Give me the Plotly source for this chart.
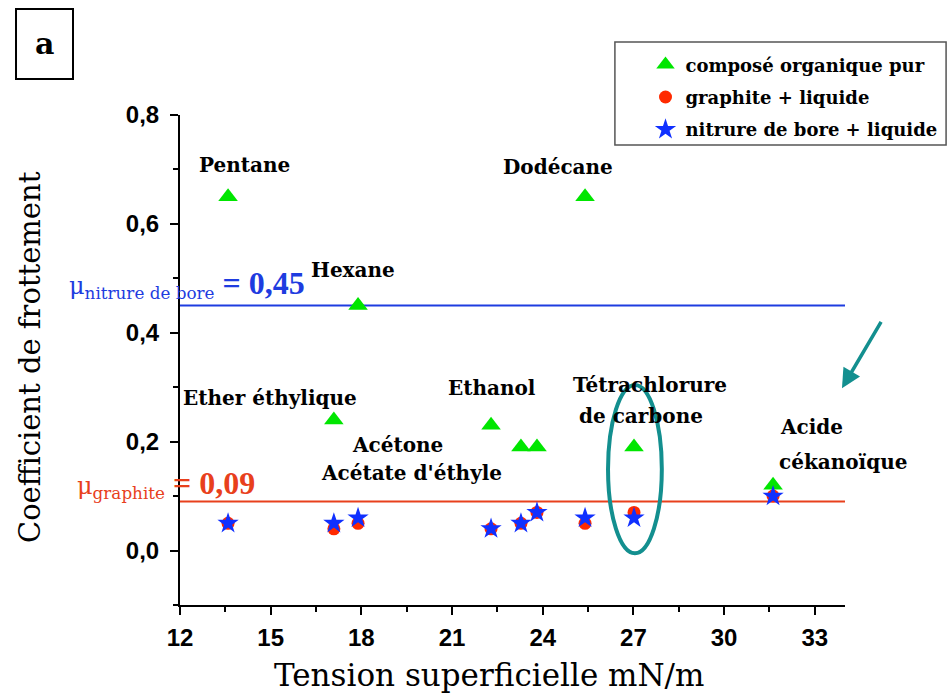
import plotly.graph_objects as go

# Surface tension of each liquid (mN/m) and measured friction coefficients
liquides = ["Pentane", "Ether éthylique", "Hexane", "Ethanol", "Acétone",
            "Acétate d'éthyle", "Dodécane", "Tétrachlorure de carbone", "Acide cékanoïque"]
tension = [13.59, 17.09, 17.89, 22.29, 23.28, 23.81, 25.40, 27.02, 31.62]
mu_organique = [0.65, 0.24, 0.45, 0.23, 0.19, 0.19, 0.65, 0.19, 0.12]
mu_graphite_liq = [0.05, 0.04, 0.05, 0.04, 0.05, 0.07, 0.05, 0.07, 0.10]
mu_bn_liq = [0.05, 0.05, 0.06, 0.04, 0.05, 0.07, 0.06, 0.06, 0.10]

# Dry friction references
mu_nitrure_bore = 0.45
mu_graphite = 0.09

x_range = [12, 34]
y_range = [-0.1, 0.8]

GREEN = "#00e600"
RED = "#ff2a00"
BLUE = "#1030ff"
TEAL = "#138f8f"
LINE_BLUE = "#1e3ce0"
LINE_RED = "#e8401c"
SERIF = "DejaVu Serif"
SERIF_NARROW = "Liberation Serif"

fig = go.Figure()

fig.add_trace(go.Scatter(
    x=tension, y=mu_organique, mode="markers", name="composé organique pur",
    legendgroup="a", text=liquides,
    marker=dict(symbol="triangle-up", size=17, color=GREEN, line=dict(width=0)),
))
fig.add_trace(go.Scatter(
    x=tension, y=mu_graphite_liq, mode="markers", name="graphite + liquide",
    legendgroup="b", text=liquides,
    marker=dict(symbol="circle", size=13, color=RED, line=dict(width=0)),
))
fig.add_trace(go.Scatter(
    x=tension, y=mu_bn_liq, mode="markers", name="nitrure de bore + liquide",
    legendgroup="c", text=liquides,
    marker=dict(symbol="star", size=16, color=BLUE, line=dict(width=0)),
))

# Horizontal reference lines for the dry powders
fig.add_shape(type="line", xref="x", yref="y", x0=x_range[0], x1=x_range[1],
              y0=mu_nitrure_bore, y1=mu_nitrure_bore,
              line=dict(color=LINE_BLUE, width=2), layer="below")
fig.add_shape(type="line", xref="x", yref="y", x0=x_range[0], x1=x_range[1],
              y0=mu_graphite, y1=mu_graphite,
              line=dict(color=LINE_RED, width=2), layer="below")

# Ellipse around the carbon tetrachloride results
fig.add_shape(type="circle", xref="x", yref="y", x0=26.16, x1=27.94, y0=-0.005, y1=0.304,
              line=dict(color=TEAL, width=4))

# Panel letter box
fig.add_shape(type="rect", xref="paper", yref="paper",
              x0=-0.2466, x1=-0.1609, y0=1.0735, y1=1.2163,
              line=dict(color="black", width=2))
fig.add_annotation(xref="paper", yref="paper", x=-0.2045, y=1.145,
                   xanchor="center", yanchor="middle",
                   text="<b>a</b>", showarrow=False,
                   font=dict(family=SERIF, size=30, color="black"))

# Legend frame
fig.add_shape(type="rect", xref="paper", yref="paper",
              x0=0.654, x1=1.152, y0=0.939, y1=1.149,
              line=dict(color="#555555", width=1.5))

lab_font = dict(family=SERIF, size=20, color="black")
labels = [
    ("Pentane", 14.15, 0.708),
    ("Dodécane", 24.50, 0.704),
    ("Hexane", 17.72, 0.515),
    ("Ether éthylique", 14.98, 0.280),
    ("Ethanol", 22.32, 0.298),
    ("Tétrachlorure", 27.55, 0.304),
    ("de carbone", 27.25, 0.247),
    ("Acétone", 19.21, 0.194),
    ("Acétate d'éthyle", 19.67, 0.142),
    ("Acide", 32.90, 0.227),
    ("cékanoïque", 33.93, 0.163),
]
for txt, lx, ly in labels:
    fig.add_annotation(x=lx, y=ly, xref="x", yref="y", text=f"<b>{txt}</b>",
                       xanchor="center", yanchor="middle",
                       showarrow=False, font=lab_font)


def mu_label(sub, value):
    val = f"{value:.2f}".replace(".", ",")
    return (f"μ<sub>{sub}</sub>"
            f'<span style="font-family:{SERIF_NARROW};font-size:32px;font-weight:bold">'
            f" = {val}</span>")


# Labels of the reference lines
fig.add_annotation(
    xref="paper", yref="paper", x=-0.17, y=0.655, xanchor="left", yanchor="middle",
    text=mu_label("nitrure de bore", mu_nitrure_bore),
    showarrow=False, font=dict(family=SERIF, size=24, color=LINE_BLUE))
fig.add_annotation(
    xref="paper", yref="paper", x=-0.158, y=0.246, xanchor="left", yanchor="middle",
    text=mu_label("graphite", mu_graphite),
    showarrow=False, font=dict(family=SERIF, size=24, color=LINE_RED))

# Teal arrow pointing towards the fatty acid point
fig.add_annotation(x=33.9, y=0.298, xref="x", yref="y", ax=40, ay=-68,
                   showarrow=True, arrowhead=2, arrowsize=1.1, arrowwidth=3.5,
                   arrowcolor=TEAL, text="")

# Axis titles
fig.add_annotation(xref="paper", yref="paper", x=0.465, y=-0.143,
                   xanchor="center", yanchor="middle",
                   text="Tension superficielle mN/m", showarrow=False,
                   font=dict(family=SERIF, size=31, color="black"))
fig.add_annotation(xref="paper", yref="paper", x=-0.2256, y=0.506, textangle=-90,
                   xanchor="center", yanchor="middle",
                   text="Coefficient de frottement", showarrow=False,
                   font=dict(family=SERIF, size=29, color="black"))

tick_font = dict(family="Liberation Sans", size=24, color="black")
fig.update_xaxes(
    range=x_range, tickmode="array", tickvals=[12, 15, 18, 21, 24, 27, 30, 33],
    ticktext=["<b>12</b>", "<b>15</b>", "<b>18</b>", "<b>21</b>", "<b>24</b>",
              "<b>27</b>", "<b>30</b>", "<b>33</b>"],
    ticks="outside", ticklen=8, tickwidth=2, tickcolor="black",
    minor=dict(tickvals=[13.5, 16.5, 19.5, 22.5, 25.5, 28.5, 31.5],
               ticks="outside", ticklen=5, tickwidth=2, tickcolor="black", showgrid=False),
    showline=True, linecolor="black", linewidth=2, showgrid=False, zeroline=False,
    tickfont=tick_font, ticklabelstandoff=2,
)
fig.update_yaxes(
    range=y_range, tickmode="array", tickvals=[0.0, 0.2, 0.4, 0.6, 0.8],
    ticktext=["<b>0,0</b>", "<b>0,2</b>", "<b>0,4</b>", "<b>0,6</b>", "<b>0,8</b>"],
    ticks="outside", ticklen=8, tickwidth=2, tickcolor="black",
    minor=dict(tickvals=[-0.1, 0.1, 0.3, 0.5, 0.7],
               ticks="outside", ticklen=5, tickwidth=2, tickcolor="black", showgrid=False),
    showline=True, linecolor="black", linewidth=2, showgrid=False, zeroline=False,
    tickfont=tick_font, ticklabelstandoff=6,
)

fig.update_layout(
    width=948, height=697,
    margin=dict(l=180, r=103, t=115, b=92, autoexpand=False),
    paper_bgcolor="white", plot_bgcolor="white",
    showlegend=True,
    legend=dict(x=0.70, y=1.14, xanchor="left", yanchor="top",
                bgcolor="rgba(0,0,0,0)", borderwidth=0,
                traceorder="grouped", tracegroupgap=6,
                font=dict(family=SERIF, size=18, color="black")),
)
# Bold legend entries
for tr in fig.data:
    tr.name = f"<b>{tr.name}</b>"

fig.write_html("out.html")
